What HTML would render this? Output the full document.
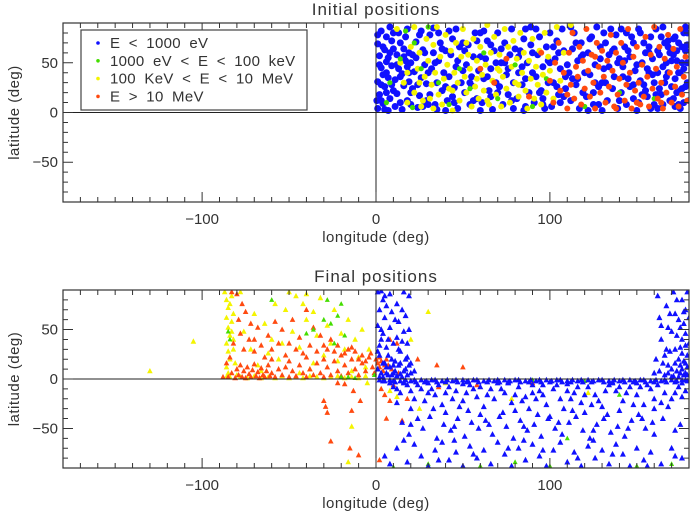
<!DOCTYPE html>
<html><head><meta charset="utf-8"><style>
html,body{margin:0;padding:0;background:#fff;}
svg{display:block;font-family:"Liberation Sans",sans-serif;}
text{fill:#333;}
</style></head><body>
<svg id="chart" width="690" height="514" viewBox="0 0 690 514" xmlns="http://www.w3.org/2000/svg"></svg>
<script>
// ---------- data: [longitude, latitude] ----------
const topBlue=[[1,4],[2,18],[1,31],[3,45],[2,57],[1,69],[3,82],[4,9],[5,26],[4,38],[6,51],[5,63],[6,76],[7,2],[8,14],[7,35],[9,47],[8,60],[9,72],[10,22],[0.5,12],[3,28],[6,40],[8,86],
[11,6],[12,19],[11,33],[13,44],[12,58],[14,70],[15,3],[16,27],[15,39],[17,52],[16,64],[18,12],[19,31],[18,46],[19,60],[13,80],[20,8],[17,76],
[21,24],[22,41],[23,55],[24,5],[25,17],[26,35],[27,63],[28,48],[29,12],[23,71],[26,82],[29,29],[21,58],[27,6],
[31,18],[32,44],[33,60],[34,8],[35,30],[36,52],[37,70],[38,22],[39,40],[31,78],[35,3],[38,64],[33,85],
[41,12],[42,36],[43,58],[44,74],[45,25],[46,46],[47,4],[48,66],[49,30],[42,82],[47,52],[44,16],
[51,20],[52,48],[53,68],[54,8],[55,36],[56,56],[57,80],[58,14],[59,42],[51,62],[55,27],[58,72],
[61,10],[62,34],[63,54],[64,72],[65,22],[66,44],[67,3],[68,62],[69,30],[62,82],[66,16],[69,50],
[71,26],[72,50],[73,8],[74,70],[75,38],[76,18],[77,58],[78,84],[79,4],[72,64],[76,44],[79,30],
[81,14],[82,40],[83,62],[84,28],[85,74],[86,6],[87,50],[88,20],[89,86],[82,56],[86,34],[89,68],
[91,10],[92,36],[93,58],[94,76],[95,22],[96,46],[97,4],[98,66],[99,30],[92,84],[96,14],[99,52],
[101,6],[102,30],[103,54],[104,72],[105,18],[106,44],[107,84],[108,62],[109,36],[102,66],[106,10],[109,24],
[111,40],[112,12],[113,64],[114,80],[115,28],[116,52],[117,4],[118,70],[119,20],[112,86],[116,34],[119,58],
[121,16],[122,60],[123,38],[124,76],[125,8],[126,48],[127,86],[128,26],[129,66],[122,2],[126,30],[129,54],
[131,44],[132,70],[133,12],[134,58],[135,84],[136,24],[137,36],[138,78],[139,4],[132,30],[136,62],[139,50],
[141,20],[142,46],[143,66],[144,8],[145,34],[146,56],[147,76],[148,14],[149,42],[141,84],[145,62],[148,28],[143,52],
[151,10],[152,32],[153,50],[154,70],[155,22],[156,44],[157,60],[158,4],[159,38],[152,80],[156,16],[159,54],[154,28],[157,66],
[161,18],[162,40],[163,58],[164,76],[165,8],[166,30],[167,50],[168,66],[169,12],[161,84],[163,24],[165,46],[167,36],[169,60],[162,4],[168,72],
[171,14],[172,34],[173,52],[174,70],[175,4],[176,24],[177,44],[178,62],[179,80],[171,58],[173,20],[175,40],[177,10],[179,30],[172,76],[176,50],[178,86],[174,8],
[2,48],[4,66],[1,78],[5,3],[6,20],[3,12],[7,55],[9,28],[10,64],[10,80],[12,48],[14,10],[14,36],[16,56],[18,84],[19,40],[20,20],[20,50],[24,28],[25,78],[28,60],[30,8],[30,40],[34,50],[36,80],[40,26],[40,62],[45,10],[46,84],[50,42],[50,70],[54,30],[56,12],[60,56],[60,80],[64,36],[66,68],[70,20],[70,80],[74,50],[78,12],[80,64],[84,46],[86,84],[90,40],[90,60],[94,20],[96,8],[100,50],[100,80],[104,26],[105,60],[108,16],[110,48],[113,34],[115,70],[118,56],[120,40],[123,74],[125,20],[128,8],[130,30],[131,80],[134,46],[137,64],[140,12],[140,54],[142,36],[144,80],[146,26],[148,70],[150,48],[151,84],[153,18],[155,60],[157,40],[158,76],[160,30],[160,8],[162,62],[164,18],[166,70],[168,40],[170,26],[170,52],[171,74],[172,6],[173,62],[174,40],[175,22],[176,66],[177,80],[178,26],[179,50],[180,12],[179,68],[165,86],[150,2],[130,2],[85,2],[60,2],[40,2]];
const topYellow=[[12,84],[14,50],[16,30],[18,10],[20,66],[22,86],[22,20],[24,44],[25,60],[26,6],[28,36],[29,74],[30,52],[31,14],[32,28],[33,68],[34,40],[35,86],[36,18],[37,56],[38,8],[39,34],[40,78],[41,48],[42,24],[43,62],[44,2],[45,40],[46,70],[47,30],[48,12],[49,56],[50,84],[51,36],[52,20],[53,58],[54,44],[55,6],[56,74],[57,26],[58,52],[59,14],[60,66],[61,38],[62,22],[63,48],[64,88],[65,8],[66,60],[67,32],[68,76],[69,18],[70,44],[71,58],[72,6],[73,36],[74,84],[75,24],[76,66],[77,10],[78,46],[79,72],[80,30],[81,54],[82,16],[83,80],[84,40],[85,60],[86,22],[87,4],[88,52],[89,34],[90,74],[91,14],[92,46],[93,28],[94,62],[95,8],[96,38],[97,80],[98,20],[99,56],[100,42],[102,14],[104,86],[106,32],[108,60],[112,88],[27,12],[33,4],[44,22],[52,70],[58,34],[64,12],[71,42],[82,28],[18,40],[25,30]];
const topGreen=[[6,10],[8,30],[14,54],[17,82],[21,5],[26,44],[30,86],[36,30],[42,8],[48,44],[54,24],[62,60],[70,14],[80,48],[90,6],[98,34],[120,6],[140,20],[160,14],[22,70]];
const topOrange=[[60,44],[68,30],[75,54],[88,16],[95,60],[100,32],[102,10],[103,50],[105,70],[106,22],[108,40],[110,4],[111,60],[112,28],[113,80],[114,14],[115,46],[116,36],[117,66],[118,8],[119,52],[120,24],[121,84],[122,42],[123,16],[124,58],[125,30],[126,4],[127,70],[128,46],[129,20],[130,62],[131,36],[132,10],[133,52],[134,26],[135,78],[136,42],[137,6],[138,60],[139,18],[140,34],[141,70],[142,50],[143,12],[144,28],[145,84],[146,40],[147,4],[148,56],[149,22],[150,66],[151,30],[152,8],[153,48],[154,16],[155,76],[156,36],[157,6],[158,58],[159,24],[160,86],[161,44],[162,14],[163,66],[164,30],[165,4],[166,54],[167,20],[168,78],[169,40],[170,10],[171,64],[172,26],[173,46],[174,6],[175,84],[176,18],[177,36],[178,56],[179,12],[110,18],[126,56],[138,4],[150,10],[164,10]];

const botBlue=[[1,88],[2,70],[1,54],[3,40],[2,24],[1,10],[4,80],[5,62],[4,46],[6,32],[5,16],[7,4],[8,86],[9,68],[8,52],[10,36],[9,20],[11,8],[12,76],[13,58],[12,42],[14,28],[13,14],[15,2],[16,88],[17,64],[16,48],[18,22],[17,10],[19,84],[3,6],[6,12],[10,6],[14,5],[18,4],[2,34],[7,24],[11,18],[4,2],[8,12],[12,3],[20,6],[15,38],[19,14],[6,74],[3,89],
[160,6],[162,84],[163,62],[164,40],[165,16],[166,4],[167,74],[168,52],[169,28],[170,10],[171,88],[172,66],[173,44],[174,20],[175,6],[176,80],[177,56],[178,34],[179,12],[171,3],[173,8],[175,14],[177,4],[179,24],[176,40],[178,70],[170,48],[174,60],[168,14],[172,30],[179,88],[177,18],[174,2],[166,24],[178,6],[176,26],
[2,-1],[5,-2],[8,-1],[11,-3],[14,-2],[17,-1],[20,-2],[23,-3],[26,-1],[29,-2],[32,-1],[35,-3],[38,-2],[41,-1],[44,-2],[47,-3],[50,-1],[53,-2],[56,-1],[59,-3],[62,-2],[65,-1],[68,-2],[71,-3],[74,-1],[77,-2],[80,-1],[83,-3],[86,-2],[89,-1],[92,-2],[95,-3],[98,-1],[101,-2],[104,-1],[107,-3],[110,-2],[113,-1],[116,-2],[119,-3],[122,-1],[125,-2],[128,-1],[131,-3],[134,-2],[137,-1],[140,-2],[143,-3],[146,-1],[149,-2],[152,-1],[155,-3],[158,-2],[161,-1],[164,-2],[167,-3],[170,-1],[173,-2],[176,-1],[179,-2],
[10,-8],[14,-14],[18,-6],[22,-20],[26,-10],[30,-4],[34,-16],[38,-26],[42,-8],[46,-12],[50,-22],[54,-6],[58,-18],[62,-28],[66,-10],[70,-4],[74,-14],[78,-24],[82,-8],[86,-18],[90,-6],[94,-12],[98,-26],[102,-10],[106,-20],[110,-5],[114,-14],[118,-24],[122,-8],[126,-16],[130,-28],[134,-6],[138,-12],[142,-22],[146,-8],[150,-16],[154,-26],[158,-10],[162,-6],[166,-14],[170,-20],[174,-8],[178,-12],[20,-30],[40,-34],[60,-36],[80,-32],[100,-38],[120,-34],[140,-32],[160,-30],[12,-24],[28,-22],[48,-28],[68,-20],[88,-30],[108,-30],[128,-22],[148,-26],[168,-28],[16,-4],[36,-6],[56,-10],[76,-4],[96,-6],[116,-8],[136,-4],[156,-6],[176,-4],
[15,-44],[19,-56],[24,-40],[27,-50],[31,-38],[35,-60],[39,-46],[43,-52],[47,-40],[51,-58],[55,-44],[59,-50],[63,-42],[67,-56],[71,-38],[75,-48],[79,-60],[83,-42],[87,-52],[91,-46],[95,-58],[99,-40],[103,-50],[107,-56],[111,-44],[115,-38],[119,-52],[123,-60],[127,-46],[131,-40],[135,-54],[139,-48],[143,-58],[147,-42],[151,-36],[155,-50],[159,-44],[165,-40],[172,-52],[33,-30],[53,-32],[73,-34],[93,-36],[113,-32],[133,-36],[153,-40],
[12,-70],[18,-84],[22,-66],[26,-78],[30,-88],[34,-72],[38,-64],[42,-82],[46,-74],[50,-88],[54,-68],[58,-80],[62,-72],[66,-86],[70,-64],[74,-76],[78,-88],[82,-70],[86,-82],[90,-66],[94,-78],[98,-88],[102,-72],[106,-64],[110,-84],[114,-74],[118,-88],[122,-68],[126,-80],[130,-72],[134,-86],[138,-66],[142,-76],[146,-88],[150,-70],[154,-82],[158,-74],[164,-86],[170,-70],[176,-80],[8,-86],[5,-78],[45,-62],[85,-62],[125,-62],
[4,-2],[10,-2],[16,-3],[22,-1],[28,-3],[34,-1],[40,-3],[46,-1],[52,-3],[58,-1],[64,-3],[70,-1],[76,-3],[82,-1],[88,-3],[94,-1],[100,-3],[106,-1],[112,-3],[118,-1],[124,-3],[130,-1],[136,-3],[142,-1],[148,-3],[154,-1],[160,-3],[166,-1],[172,-3],[178,-1],
[8,-4],[12,-10],[20,-12],[24,-6],[32,-10],[40,-14],[44,-20],[52,-14],[60,-8],[64,-16],[72,-10],[80,-16],[84,-22],[92,-20],[96,-16],[104,-6],[112,-20],[120,-16],[124,-26],[132,-12],[140,-8],[144,-14],[152,-8],[160,-20],[164,-24],[172,-14],[176,-18],[30,-14],[50,-5],[90,-14],[110,-12],[150,-4],
[20,-46],[45,-48],[65,-46],[85,-48],[105,-44],[125,-52],[145,-50],[160,-56],[175,-46],[16,-62],[36,-82],[56,-76],[76,-70],[96,-72],[116,-80],[136,-76],[156,-88],[172,-78],
[1,28],[3,50],[5,84],[7,40],[9,4],[11,60],[13,30],[15,70],[17,20],[19,50],[2,2],[4,16],[6,6],[10,14],[14,16],[16,8],[20,16],[22,8],[18,36],
[161,20],[164,54],[167,30],[169,66],[170,2],[172,16],[173,80],[175,32],[176,10],[177,68],[178,46],[179,4],[180,36],[175,52],[168,6],[163,8],[178,16],[180,62]];
const botYellow=[[-87,88],[-86,80],[-85,72],[-86,62],[-85,52],[-84,44],[-86,36],[-85,28],[-84,20],[-86,12],[-85,6],[-84,2],[-83,84],[-82,66],[-83,48],[-82,30],[-81,16],[-80,4],[-84,76],[-83,58],[-82,40],[-86,2],
[-78,2],[-74,1],[-70,3],[-66,1],[-62,2],[-58,1],[-54,3],[-50,1],[-46,2],[-42,1],[-38,3],[-34,2],[-30,1],[-26,2],[-22,3],[-18,1],[-14,2],[-10,1],[-6,3],
[-78,88],[-72,30],[-68,14],[-64,56],[-60,40],[-56,20],[-52,70],[-50,88],[-48,48],[-46,84],[-44,32],[-42,76],[-40,60],[-38,10],[-36,68],[-34,44],[-32,82],[-30,24],[-28,54],[-26,36],[-24,70],[-22,18],[-20,46],[-18,30],[-16,60],[-14,8],[-12,40],[-10,22],[-8,50],[-6,12],[-4,30],[-76,48],[-70,66],[-66,8],[-62,26],[-58,76],[-54,36],[-44,6],[-40,86],[-36,16],[-130,8],[-105,38],[-14,-48],[-16,-84],[-5,-4],[8,-12],[12,-18],[25,-30],[40,-4],[78,-20],[122,-14],[30,68],[20,40]];
const botOrange=[[-85,2],[-83,6],[-81,1],[-80,10],[-79,4],[-78,14],[-77,2],[-76,8],[-75,1],[-74,12],[-73,5],[-72,2],[-71,9],[-70,15],[-69,3],[-68,7],[-67,1],[-66,11],[-65,4],[-64,2],[-63,8],[-62,14],[-61,3],[-60,6],[-58,2],[-56,10],[-54,4],[-52,12],[-50,2],[-48,8],[-46,3],[-44,14],[-42,6],[-40,2],[-38,10],[-36,4],[-34,16],[-32,6],[-30,2],[-28,12],[-26,4],[-24,18],[-22,8],[-20,3],[-18,14],[-16,6],[-14,20],[-12,10],[-10,4],[-8,16],[-6,8],[-4,22],[-2,12],[-1,6],
[-84,22],[-82,36],[-80,86],[-79,60],[-78,46],[-77,76],[-76,30],[-75,68],[-73,40],[-72,56],[-70,28],[-68,52],[-66,34],[-64,22],[-62,44],[-60,30],[-58,58],[-56,36],[-54,50],[-52,24],[-50,36],[-48,60],[-46,30],[-44,42],[-42,26],[-40,70],[-38,34],[-36,52],[-34,28],[-32,44],[-30,20],[-28,30],[-26,40],[-24,28],[-22,34],[-20,24],[-18,26],[-16,30],[-14,32],[-12,28],[-10,20],[-8,24],[-70,40],[-60,20],[-50,18],[-40,22],[-30,34],[-86,16],[-83,88],[-6,18],[-3,26],
[-30,-22],[-29,-28],[-28,-34],[-26,-63],[-14,-32],[-15,-70],[-10,-77],[-9,-22],[-13,-12],[-18,-5],[-22,-4],[3,-10],[5,-16],[8,-22],[10,-6],[15,-42],[6,-40],[2,-82],[-88,2],[12,36],[8,40],[13,6],[5,14],[2,22],[24,20],[35,14],[50,12],[18,-20],[36,-8],[58,-6],[90,-4],
[0,20],[1,16],[3,18],[2,12],[4,8],[6,20],[7,14],[9,10]];
const botGreen=[[-85,48],[-84,40],[-60,80],[-40,46],[-36,50],[-30,60],[-28,80],[-26,56],[-24,36],[-22,64],[-20,76],[-18,44],[-16,2],[-12,1],[-20,2],[10,-89],[30,-86],[60,-88],[80,-84],[100,-88],[110,-60],[120,-2],[140,-16],[160,-2],[40,-2],[70,-1],[90,-1],[150,-88],[170,-86],[-1,4]];

const xTicks=[-100,0,100];
const yTicks=[-50,0,50];
const legendLabels=["E < 1000 eV","1000 eV < E < 100 keV","100 KeV < E < 10 MeV","E > 10 MeV"];
const COLORS={blue:"#1010ff",green:"#44dd00",yellow:"#f4f400",orange:"#ff4a10"};

const NS="http://www.w3.org/2000/svg";
const svg=document.getElementById('chart');
function mk(tag,attrs,parent){const e=document.createElementNS(NS,tag);for(const k in attrs)e.setAttribute(k,attrs[k]);(parent||svg).appendChild(e);return e;}

function panel(P,id,title,series,marker){
  const xs=lon=>P.l+(lon+180)/360*(P.r-P.l);
  const ys=lat=>P.t+(90-lat)/180*(P.b-P.t);
  const g=mk('g',{});
  
  
  const cp=mk('clipPath',{id:id+'clip'},g);mk('rect',{x:P.l,y:P.t,width:P.r-P.l,height:P.b-P.t},cp);
  const pts=mk('g',{'clip-path':'url(#'+id+'clip)'},g);
  series.forEach(s=>{
    const sg=mk('g',{fill:s.color},pts);
    
    
    s.data.forEach(d=>{
      const x=xs(d[0]),y=ys(d[1]);let m;
      if(marker==='dot'){m=mk('circle',{cx:x.toFixed(1),cy:y.toFixed(1),r:s.r},sg);}
      else{const h=s.r;m=mk('path',{d:`M${(x-h).toFixed(1)},${(y+h*0.8).toFixed(1)}L${(x+h).toFixed(1)},${(y+h*0.8).toFixed(1)}L${x.toFixed(1)},${(y-h*1.1).toFixed(1)}Z`},sg);}
      
      
    });
  });
  const zl=mk('path',{d:`M${P.l},${ys(0)}H${P.r}M${xs(0)},${P.t}V${P.b}`,stroke:'#222','stroke-width':1,fill:'none'},g);
  
  const fr=mk('rect',{x:P.l,y:P.t,width:P.r-P.l,height:P.b-P.t,fill:'none',stroke:'#333','stroke-width':1.2},g);
  
  let d='';
  for(let v=-180;v<=180;v+=10){const x=xs(v);const L=(v%100===0)?10:5;d+=`M${x},${P.b}v${-L}M${x},${P.t}v${L}`;}
  for(let v=-90;v<=90;v+=10){const y=ys(v);const L=(v%50===0)?10:5;d+=`M${P.l},${y}h${L}M${P.r},${y}h${-L}`;}
  const tk=mk('path',{d:d,stroke:'#333','stroke-width':1,fill:'none'},g);
  
  xTicks.forEach(v=>{const t=mk('text',{x:xs(v),y:P.b+22,'text-anchor':'middle','font-size':15},g);t.textContent=(v<0?'\u2212':'')+Math.abs(v);
    });
  yTicks.forEach(v=>{const t=mk('text',{x:P.l-5,y:ys(v)+5,'text-anchor':'end','font-size':15},g);t.textContent=(v<0?'\u2212':'')+Math.abs(v);
    });
  const xt=mk('text',{x:xs(0),y:P.b+40,'text-anchor':'middle','font-size':15,'letter-spacing':0.5},g);xt.textContent='longitude (deg)';
  
  const ym=(P.t+P.b)/2;
  const yt=mk('text',{x:19,y:ym,'text-anchor':'middle','font-size':15,'letter-spacing':0.5,transform:`rotate(-90 19 ${ym})`},g);yt.textContent='latitude (deg)';
  
  const tt=mk('text',{x:xs(0),y:P.t-8,'text-anchor':'middle','font-size':17,'letter-spacing':1},g);tt.textContent=title;
  
}

panel({l:63,r:689,t:23,b:202},'initial','Initial positions',[
  {name:'low',data:topBlue,color:COLORS.blue,r:3.5},
  {name:'mid-low',data:topYellow,color:COLORS.yellow,r:3},
  {name:'mid',data:topGreen,color:COLORS.green,r:2.6},
  {name:'high',data:topOrange,color:COLORS.orange,r:3}],'dot');
panel({l:63,r:689,t:290,b:468},'final','Final positions',[
  {name:'mid-low',data:botYellow,color:COLORS.yellow,r:2.8},
  {name:'high',data:botOrange,color:COLORS.orange,r:2.8},
  {name:'mid',data:botGreen,color:COLORS.green,r:2.5},
  {name:'low',data:botBlue,color:COLORS.blue,r:3}],'tri');

const lg=mk('g',{});


mk('rect',{x:81,y:30,width:226,height:80,fill:'#fff',stroke:'#444','stroke-width':1.2},lg);
const lc=[COLORS.blue,COLORS.green,COLORS.yellow,COLORS.orange];
legendLabels.forEach((s,i)=>{
  const y=43+i*17.8;
  const e=mk('g',{},lg);
  
  
  mk('circle',{cx:98,cy:y,r:1.8,fill:lc[i]},e);
  const t=mk('text',{x:110,y:y+5,'font-size':15,'word-spacing':4,'letter-spacing':0.3},e);t.textContent=s;
});
</script>
</body></html>
